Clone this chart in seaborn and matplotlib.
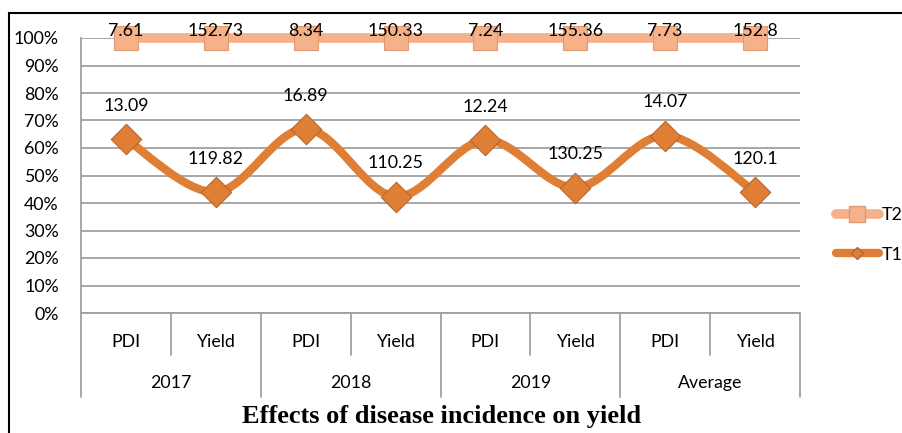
import numpy as np
import pandas as pd
import matplotlib
matplotlib.use("Agg")
import matplotlib.pyplot as plt
import seaborn as sns
from matplotlib.path import Path
from matplotlib.patches import PathPatch, Rectangle
from matplotlib.lines import Line2D
from matplotlib.ticker import PercentFormatter

# data (100% stacked line: T1 share, T2 on top)
groups = ["2017", "2018", "2019", "Average"]
measures = ["PDI", "Yield"]
t1 = [13.09, 119.82, 16.89, 110.25, 12.24, 130.25, 14.07, 120.1]
t2 = [7.61, 152.73, 8.34, 150.33, 7.24, 155.36, 7.73, 152.8]
title = "Effects of disease incidence on yield"

t1_color = "#DF7F36"
t2_color = "#F5B18A"
grid_color = "#A0A0A0"
fs = 12.8


def smooth_path(x, y):
    """Excel-like smoothed line as cubic bezier segments."""
    pts = np.column_stack([x, y])
    n = len(pts)
    verts = [pts[0]]
    codes = [Path.MOVETO]
    for i in range(n - 1):
        p0 = pts[i - 1] if i > 0 else pts[i]
        p3 = pts[i + 2] if i + 2 < n else pts[i + 1]
        c1 = pts[i] + (pts[i + 1] - p0) / 6
        c2 = pts[i + 1] - (p3 - pts[i]) / 6
        verts += [c1, c2, pts[i + 1]]
        codes += [Path.CURVE4] * 3
    return Path(verts, codes)


df = pd.DataFrame({"pos": np.arange(len(t1)), "t1": t1, "t2": t2})
df["total"] = df["t1"] + df["t2"]
df["p1"] = df["t1"] / df["total"]
df["p2"] = (df["t1"] + df["t2"]) / df["total"]

sns.set_style("white")
plt.rcParams["font.family"] = ["Lato", "DejaVu Sans"]
plt.rcParams["text.color"] = "black"
plt.rcParams["xtick.labelcolor"] = "black"
plt.rcParams["ytick.labelcolor"] = "black"

W, H = 903, 433
fig = plt.figure(figsize=(W / 100, H / 100), dpi=100)
ax = fig.add_axes([81 / W, 1 - 313 / H, (800 - 81) / W, (313 - 38) / H])

# gridlines
ax.set_ylim(0, 1)
ax.set_xlim(-0.5, len(t1) - 0.5)
ax.set_yticks(np.linspace(0, 1, 11))
ax.yaxis.set_major_formatter(PercentFormatter(1.0, decimals=0))
ax.grid(axis="y", color=grid_color, lw=1.3)
ax.set_axisbelow(True)
for s in ["top", "right"]:
    ax.spines[s].set_visible(False)
for s in ["left", "bottom"]:
    ax.spines[s].set_color(grid_color)
    ax.spines[s].set_linewidth(1.3)
ax.tick_params(axis="y", length=6, width=1.3, color=grid_color, labelsize=fs, pad=10)
ax.set_xticks(df["pos"], labels=measures * len(groups))
ax.tick_params(axis="x", length=0, labelsize=fs, pad=15)

# T2 (top of the stack)
sns.lineplot(data=df, x="pos", y="p2", ax=ax, color=t2_color, lw=7,
             marker="s", markersize=17, markerfacecolor=t2_color,
             markeredgecolor="#E09A72", markeredgewidth=0.8, clip_on=False,
             zorder=4, legend=False)

# T1 smoothed line + diamonds
ax.add_patch(PathPatch(smooth_path(df["pos"], df["p1"]), fill=False,
                       ec=t1_color, lw=6, capstyle="round", zorder=3))
sns.scatterplot(data=df, x="pos", y="p1", ax=ax, marker="D", s=240,
                color=t1_color, edgecolor="#B9662A", linewidth=0.8,
                zorder=5, legend=False)
ax.set_xlabel("")
ax.set_ylabel("")

# data labels
for _, r in df.iterrows():
    ax.annotate(f"{r['t2']:g}", (r["pos"], r["p2"]), xytext=(0, 5),
                textcoords="offset points", ha="center", va="center",
                fontsize=fs, zorder=6, annotation_clip=False)
    ax.annotate(f"{r['t1']:g}", (r["pos"], r["p1"]), xytext=(0, 24),
                textcoords="offset points", ha="center", va="center",
                fontsize=fs, zorder=6)

# multi-level category axis
trans = ax.get_xaxis_transform()
short_y = -(355 - 313) / 275
long_y = -(397 - 313) / 275
for k in range(len(t1) + 1):
    xb = k - 0.5
    yb = long_y if k % 2 == 0 else short_y
    ax.plot([xb, xb], [0, yb], color=grid_color, lw=1.3, transform=trans,
            clip_on=False)
for g, name in enumerate(groups):
    ax.text(2 * g + 0.5, -(383 - 313) / 275, name, transform=trans,
            ha="center", va="center", fontsize=fs)

fig.text(442 / W, 1 - 416 / H, title, ha="center", va="center",
         fontsize=19, fontweight="bold", family="Liberation Serif")

# legend on the right (cut off by the figure edge, as in the source)
handles = [
    Line2D([], [], color=t2_color, lw=7, marker="s", markersize=11,
           markerfacecolor=t2_color, markeredgecolor="#E09A72"),
    Line2D([], [], color=t1_color, lw=6, marker="D", markersize=6,
           markerfacecolor=t1_color, markeredgecolor="#B9662A"),
]
fig.legend(handles, ["T2", "T1"], loc="center left",
           bbox_to_anchor=(836 / W, 1 - 235 / H), frameon=False,
           borderpad=0, borderaxespad=0, handlelength=2.4,
           handletextpad=0.2, labelspacing=1.3, fontsize=fs)

# outer chart border
fig.add_artist(Rectangle((9 / W, -0.5), 2, 1 - 13 / H + 0.5,
                         transform=fig.transFigure, fill=False,
                         ec="black", lw=1.5, clip_on=False))

fig.savefig("out.png", dpi=100)
